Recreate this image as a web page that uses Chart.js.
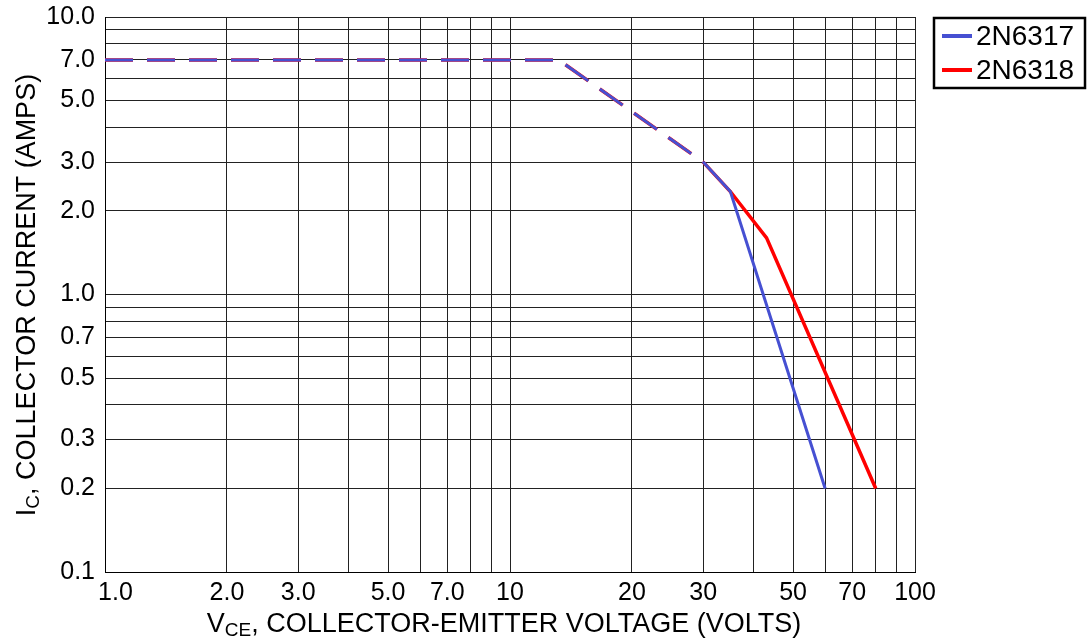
<!DOCTYPE html>
<html><head><meta charset="utf-8">
<script src="https://cdn.jsdelivr.net/npm/chart.js@4.4.1/dist/chart.umd.min.js"></script>
<style>html,body{margin:0;padding:0;background:#fff;} #wrap{width:1088px;height:643px;position:relative;}</style>
</head><body><div id="wrap"><canvas id="c" width="1088" height="643"></canvas></div>
<script>
const seriesNames = ['2N6317', '2N6318'];
const seriesColors = ['#4650d2', '#ff0000'];
const vce6317 = [1, 13.2, 30, 35, 60];
const ic6317 = [7, 7, 3, 2.35, 0.2];
const vce6318 = [1, 13.2, 30, 35, 43, 80];
const ic6318 = [7, 7, 3, 2.35, 1.6, 0.2];
const xGridValues = [1, 2, 3, 4, 5, 6, 7, 8, 9, 10, 20, 30, 40, 50, 60, 70, 80, 90, 100];
const yGridValues = [0.1, 0.2, 0.3, 0.4, 0.5, 0.6, 0.7, 0.8, 0.9, 1, 2, 3, 4, 5, 6, 7, 8, 9, 10];
const xTickLabels = ['1.0', '2.0', '3.0', '5.0', '7.0', '10', '20', '30', '50', '70', '100'];
const xTickValues = [1, 2, 3, 5, 7, 10, 20, 30, 50, 70, 100];
const yTickLabels = ['0.1', '0.2', '0.3', '0.5', '0.7', '1.0', '2.0', '3.0', '5.0', '7.0', '10.0'];
const yTickValues = [0.1, 0.2, 0.3, 0.5, 0.7, 1, 2, 3, 5, 7, 10];
const dashedUpToVolts = 30;

const FONT = "'Liberation Sans', Arial, sans-serif";

function toPoints(xs, ys) { return xs.map((x, i) => ({ x: x, y: ys[i] })); }
function labelFor(values, labels, v) {
  const i = values.findIndex(t => Math.abs(t - v) < 1e-9);
  return i < 0 ? '' : labels[i];
}

const dashSeg = { borderDash: ctx => (ctx.p1.parsed.x <= dashedUpToVolts + 1e-9 ? [28, 14] : []) };

const titlesAndLegend = {
  id: 'titlesAndLegend',
  afterDraw(chart) {
    const ctx = chart.ctx;
    ctx.save();
    ctx.fillStyle = '#000';
    ctx.textBaseline = 'alphabetic';
    const big = '27px ' + FONT, small = '19px ' + FONT;
    // X title
    const xParts = [['V', big, 0], ['CE', small, 4], [', COLLECTOR-EMITTER VOLTAGE (VOLTS)', big, 0]];
    let w = 0;
    xParts.forEach(p => { ctx.font = p[1]; w += ctx.measureText(p[0]).width; });
    let x = 504 - w / 2;
    xParts.forEach(p => { ctx.font = p[1]; ctx.fillText(p[0], x, 632 + p[2]); x += ctx.measureText(p[0]).width; });
    // Y title
    const yParts = [['I', big, 0], ['C', small, 4], [', COLLECTOR CURRENT (AMPS)', big, 0]];
    w = 0;
    yParts.forEach(p => { ctx.font = p[1]; w += ctx.measureText(p[0]).width; });
    ctx.translate(35, 295);
    ctx.rotate(-Math.PI / 2);
    x = -w / 2;
    yParts.forEach(p => { ctx.font = p[1]; ctx.fillText(p[0], x, p[2]); x += ctx.measureText(p[0]).width; });
    ctx.restore();
    // Legend
    ctx.save();
    ctx.strokeStyle = '#000';
    ctx.lineWidth = 2.5;
    ctx.strokeRect(934, 18, 151, 70);
    ctx.font = '28px ' + FONT;
    ctx.textBaseline = 'middle';
    chart.data.datasets.forEach((ds, i) => {
      const yy = 36 + i * 34;
      ctx.strokeStyle = ds.borderColor;
      ctx.lineWidth = 4;
      ctx.lineCap = 'butt';
      ctx.beginPath(); ctx.moveTo(942, yy); ctx.lineTo(972, yy); ctx.stroke();
      ctx.fillStyle = '#000';
      ctx.fillText(ds.label, 976, yy + 1);
    });
    ctx.restore();
  }
};

new Chart(document.getElementById('c'), {
  type: 'line',
  data: {
    datasets: [
      { label: seriesNames[0], data: toPoints(vce6317, ic6317), borderColor: seriesColors[0], backgroundColor: seriesColors[0],
        borderWidth: 3, pointRadius: 0, tension: 0, fill: false, segment: dashSeg },
      { label: seriesNames[1], data: toPoints(vce6318, ic6318), borderColor: seriesColors[1], backgroundColor: seriesColors[1],
        borderWidth: 3.5, pointRadius: 0, tension: 0, fill: false, segment: dashSeg }
    ]
  },
  options: {
    responsive: false,
    animation: false,
    devicePixelRatio: 1,
    layout: { padding: { top: 17, right: 173, bottom: 0, left: 0 } },
    plugins: { legend: { display: false }, tooltip: { enabled: false } },
    scales: {
      x: {
        type: 'logarithmic', min: 1, max: 100,
        afterBuildTicks: s => { s.ticks = xGridValues.map(v => ({ value: v })); },
        afterFit: s => { s.height = 71; s.paddingLeft = 0; s.paddingRight = 0; },
        ticks: {
          autoSkip: false, maxRotation: 0, minRotation: 0, color: '#000', padding: 6,
          font: { family: FONT, size: 25 },
          callback: v => { const l = labelFor(xTickValues, xTickLabels, v); return v === 1 ? '   ' + l : l; }
        },
        grid: { color: '#222', lineWidth: 1, drawTicks: false },
        border: { color: '#000', width: 1 }
      },
      y: {
        type: 'logarithmic', min: 0.1, max: 10,
        afterBuildTicks: s => { s.ticks = yGridValues.map(v => ({ value: v })); },
        afterFit: s => { s.width = 105; s.paddingTop = 0; s.paddingBottom = 0; },
        ticks: {
          autoSkip: false, color: '#000', padding: 10,
          font: { family: FONT, size: 25 },
          callback: v => labelFor(yTickValues, yTickLabels, v)
        },
        grid: { color: '#222', lineWidth: 1, drawTicks: false },
        border: { color: '#000', width: 1 }
      }
    }
  },
  plugins: [titlesAndLegend]
});
</script></body></html>
